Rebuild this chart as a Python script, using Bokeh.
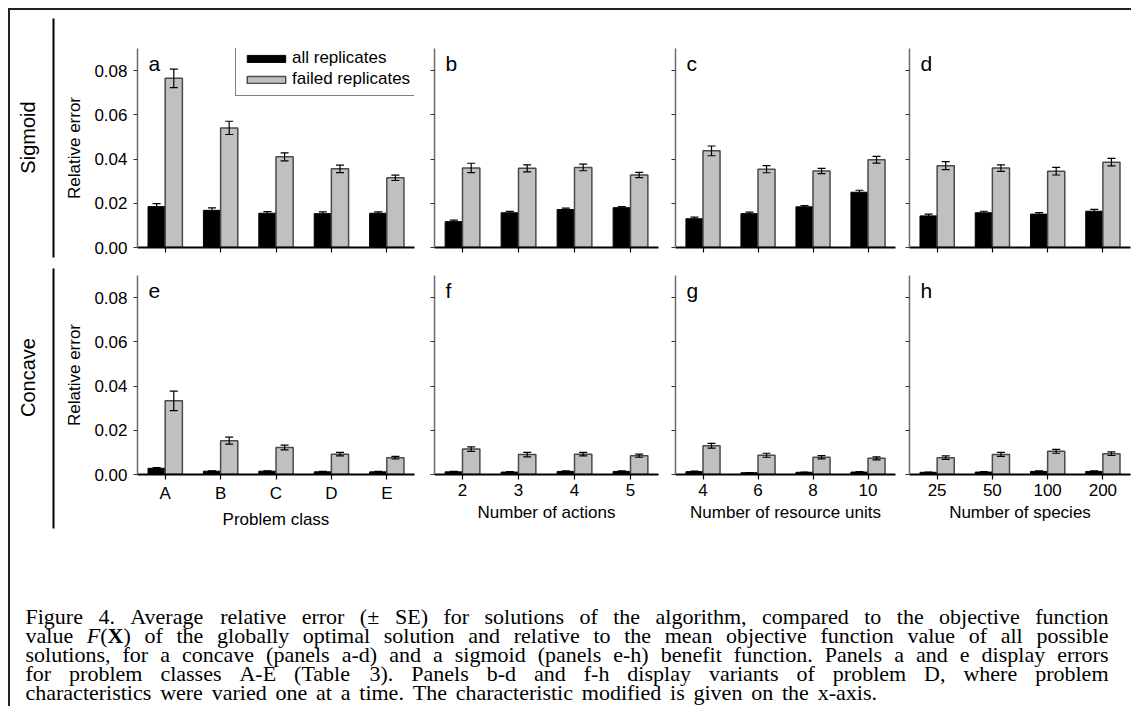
import math
from bokeh.plotting import figure
from bokeh.models import (ColumnDataSource, FactorRange, Range1d, FixedTicker,
                          NumeralTickFormatter, Legend, LegendItem, Label, LinearAxis)
from bokeh.transform import dodge
from bokeh.layouts import row, column
from bokeh.embed import file_html
from bokeh.resources import INLINE
from bokeh.core.properties import value

# ---------------- data ----------------
classes = ["A", "B", "C", "D", "E"]
actions = ["2", "3", "4", "5"]
resources = ["4", "6", "8", "10"]
species = ["25", "50", "100", "200"]

series_names = ["all replicates", "failed replicates"]
row_names = ["Sigmoid", "Concave"]
panel_letters = ["a", "b", "c", "d", "e", "f", "g", "h"]
x_titles = ["Problem class", "Number of actions", "Number of resource units", "Number of species"]
y_title = "Relative error"
y_ticks = [0.0, 0.02, 0.04, 0.06, 0.08]

# Sigmoid (top row)
sig_class_all = [0.0185, 0.0168, 0.0155, 0.0153, 0.0155]
sig_class_all_se = [0.0013, 0.0011, 0.0007, 0.0008, 0.0006]
sig_class_fail = [0.0765, 0.0541, 0.0410, 0.0356, 0.0315]
sig_class_fail_se = [0.0042, 0.0030, 0.0018, 0.0017, 0.0012]

sig_act_all = [0.0117, 0.0157, 0.0172, 0.0180]
sig_act_all_se = [0.0007, 0.0006, 0.0006, 0.0005]
sig_act_fail = [0.0360, 0.0358, 0.0362, 0.0328]
sig_act_fail_se = [0.0021, 0.0016, 0.0015, 0.0012]

sig_res_all = [0.0130, 0.0153, 0.0184, 0.0250]
sig_res_all_se = [0.0007, 0.0007, 0.0006, 0.0009]
sig_res_fail = [0.0437, 0.0354, 0.0346, 0.0397]
sig_res_fail_se = [0.0022, 0.0016, 0.0012, 0.0015]

sig_sp_all = [0.0143, 0.0157, 0.0151, 0.0164]
sig_sp_all_se = [0.0008, 0.0007, 0.0007, 0.0008]
sig_sp_fail = [0.0370, 0.0359, 0.0345, 0.0386]
sig_sp_fail_se = [0.0018, 0.0015, 0.0017, 0.0017]

# Concave (bottom row)
con_class_all = [0.0028, 0.0015, 0.0015, 0.0012, 0.0012]
con_class_all_se = [0.0003, 0.0002, 0.0002, 0.0002, 0.0002]
con_class_fail = [0.0333, 0.0153, 0.0122, 0.0092, 0.0076]
con_class_fail_se = [0.0044, 0.0016, 0.0011, 0.0008, 0.0006]

con_act_all = [0.0012, 0.0011, 0.0014, 0.0014]
con_act_all_se = [0.0002, 0.0002, 0.0002, 0.0002]
con_act_fail = [0.0115, 0.0090, 0.0092, 0.0085]
con_act_fail_se = [0.0010, 0.0010, 0.0008, 0.0007]

con_res_all = [0.0013, 0.0008, 0.0010, 0.0011]
con_res_all_se = [0.0002, 0.0001, 0.0001, 0.0002]
con_res_fail = [0.0130, 0.0087, 0.0078, 0.0073]
con_res_fail_se = [0.0011, 0.0009, 0.0007, 0.0007]

con_sp_all = [0.0010, 0.0011, 0.0014, 0.0014]
con_sp_all_se = [0.0001, 0.0002, 0.0002, 0.0002]
con_sp_fail = [0.0076, 0.0091, 0.0105, 0.0094]
con_sp_fail_se = [0.0008, 0.0009, 0.0009, 0.0008]

caption_lines = [
    "Figure 4. Average relative error (\u00b1 SE) for solutions of the algorithm, compared to the objective function",
    "value F(X) of the globally optimal solution and relative to the mean objective function value of all possible",
    "solutions, for a concave (panels a-d) and a sigmoid (panels e-h) benefit function. Panels a and e display errors",
    "for problem classes A-E (Table 3). Panels b-d and f-h display variants of problem D, where problem",
    "characteristics were varied one at a time. The characteristic modified is given on the x-axis.",
]

# ---------------- style ----------------
SANS = "Liberation Sans"
SERIF = "Liberation Serif"
FS = "17px"
FRAME_H = 199
BAR_W = 0.31
GREY = "#c0c0c0"
GREY_LINE = "#4a4a4a"


def make_panel(cats, all_m, all_se, fail_m, fail_se, letter, top, frame_w, bl, br,
               first, xlabel, legend=False):
    bt, bb = (38, 14) if top else (14, 60)
    p = figure(x_range=FactorRange(*cats), y_range=Range1d(0, 0.09),
               frame_width=frame_w, frame_height=FRAME_H,
               min_border_left=bl, min_border_right=br,
               min_border_top=bt, min_border_bottom=bb,
               x_axis_type=None if top else "auto",
               y_axis_type="auto" if first else None,
               output_backend="svg", toolbar_location=None, tools="")
    p.background_fill_color = "white"
    p.border_fill_color = "white"
    p.outline_line_color = None
    p.xgrid.visible = False
    p.ygrid.visible = False

    src = ColumnDataSource(dict(
        cat=cats, all=all_m, fail=fail_m,
        all_lo=[m - s for m, s in zip(all_m, all_se)],
        all_hi=[m + s for m, s in zip(all_m, all_se)],
        fail_lo=[m - s for m, s in zip(fail_m, fail_se)],
        fail_hi=[m + s for m, s in zip(fail_m, fail_se)],
    ))
    xa = dodge("cat", -BAR_W / 2, range=p.x_range)
    xf = dodge("cat", BAR_W / 2, range=p.x_range)
    r1 = p.vbar(x=xa, top="all", width=BAR_W, source=src,
                fill_color="black", line_color="black", line_width=1)
    r2 = p.vbar(x=xf, top="fail", width=BAR_W, source=src,
                fill_color=GREY, line_color=GREY_LINE, line_width=1.5)
    for x, lo, hi in ((xa, "all_lo", "all_hi"), (xf, "fail_lo", "fail_hi")):
        p.segment(x0=x, y0=lo, x1=x, y1=hi, source=src,
                  line_color="black", line_width=1.2)
        p.scatter(x=x, y=hi, marker="dash", size=8, source=src,
                  line_color="black", line_width=1.2)
        p.scatter(x=x, y=lo, marker="dash", size=8, source=src,
                  line_color="black", line_width=1.2)

    # ---- x axis ----
    if top:
        # tick marks only (no labels): minor ticks at the category centres
        xax = LinearAxis(ticker=FixedTicker(ticks=[], minor_ticks=[i + 0.5 for i in range(len(cats))]))
        xax.minor_tick_line_color = "black"
        xax.minor_tick_line_width = 1.2
        xax.minor_tick_out = 5
        xax.minor_tick_in = 0
        p.add_layout(xax, "below")
    else:
        xax = p.xaxis[0]
        xax.major_tick_line_color = "black"
        xax.major_tick_line_width = 1.2
        xax.major_tick_out = 5
        xax.major_tick_in = 0
        xax.major_label_text_font = SANS
        xax.major_label_text_font_size = FS
        xax.major_label_text_color = "black"
        xax.major_label_standoff = 4
        xax.axis_label = xlabel
        xax.axis_label_text_font = SANS
        xax.axis_label_text_font_size = FS
        xax.axis_label_text_font_style = "normal"
        xax.axis_label_text_color = "black"
        xax.axis_label_standoff = 4
    xax.axis_line_color = "black"
    xax.axis_line_width = 2

    # ---- y axis ----
    if first:
        yax = p.yaxis[0]
        yax.ticker = FixedTicker(ticks=y_ticks)
        yax.formatter = NumeralTickFormatter(format="0.00")
        yax.major_tick_line_color = "#333333"
        yax.major_tick_line_width = 1.2
        yax.major_tick_out = 4
        yax.major_tick_in = 0
        yax.minor_tick_line_color = None
        yax.major_label_text_font = SANS
        yax.major_label_text_font_size = FS
        yax.major_label_text_color = "black"
        yax.major_label_standoff = 6
        yax.axis_label = y_title
        yax.axis_label_text_font = SANS
        yax.axis_label_text_font_size = FS
        yax.axis_label_text_font_style = "normal"
        yax.axis_label_text_color = "black"
        yax.axis_label_standoff = 7
    else:
        yax = LinearAxis(ticker=FixedTicker(ticks=[], minor_ticks=y_ticks))
        yax.minor_tick_line_color = "#333333"
        yax.minor_tick_line_width = 1.2
        yax.minor_tick_out = 4
        yax.minor_tick_in = 0
        p.add_layout(yax, "left")
    yax.axis_line_color = "#6b6b6b"
    yax.axis_line_width = 1.5

    p.add_layout(Label(x=11, y=FRAME_H - 15, x_units="screen", y_units="screen",
                       text=letter, text_font=SANS, text_font_size="21px",
                       text_color="black", text_baseline="alphabetic"))

    if legend:
        lg = Legend(items=[LegendItem(label=series_names[0], renderers=[r1]),
                           LegendItem(label=series_names[1], renderers=[r2])],
                    location=(98, 151))
        lg.glyph_width = 48
        lg.glyph_height = 9
        lg.label_height = 17
        lg.label_standoff = 2
        lg.padding = 6
        lg.spacing = 1
        lg.margin = 0
        lg.label_text_font = SANS
        lg.label_text_font_size = FS
        lg.label_text_color = "black"
        lg.label_text_baseline = "middle"
        lg.border_line_color = "black"
        lg.border_line_width = 1.3
        lg.background_fill_color = "white"
        lg.background_fill_alpha = 1
        p.add_layout(lg)
    return p


# column geometry: (frame width, min border left, min border right)
geom = [(277, 75, 10), (224, 10, 8), (220, 9, 7), (221, 7, 1)]
cats_list = [classes, actions, resources, species]
sig = [(sig_class_all, sig_class_all_se, sig_class_fail, sig_class_fail_se),
       (sig_act_all, sig_act_all_se, sig_act_fail, sig_act_fail_se),
       (sig_res_all, sig_res_all_se, sig_res_fail, sig_res_fail_se),
       (sig_sp_all, sig_sp_all_se, sig_sp_fail, sig_sp_fail_se)]
con = [(con_class_all, con_class_all_se, con_class_fail, con_class_fail_se),
       (con_act_all, con_act_all_se, con_act_fail, con_act_fail_se),
       (con_res_all, con_res_all_se, con_res_fail, con_res_fail_se),
       (con_sp_all, con_sp_all_se, con_sp_fail, con_sp_fail_se)]

top_figs, bot_figs = [], []
for i in range(4):
    fw, bl, br = geom[i]
    top_figs.append(make_panel(cats_list[i], *sig[i], panel_letters[i], True, fw, bl, br,
                               i == 0, x_titles[i], legend=(i == 0)))
    bot_figs.append(make_panel(cats_list[i], *con[i], panel_letters[i + 4], False, fw, bl, br,
                               i == 0, x_titles[i]))

# ---------------- left strip with row titles ----------------
STRIP_W, STRIP_H = 52, 524
strip = figure(width=STRIP_W, height=STRIP_H, x_range=Range1d(0, STRIP_W),
               y_range=Range1d(STRIP_H, 0), x_axis_type=None, y_axis_type=None,
               min_border=0, output_backend="svg", toolbar_location=None, tools="")
strip.outline_line_color = None
strip.grid.visible = False
strip.text(x=[17, 17], y=[127, 367], text=row_names, angle=math.pi / 2,
           text_align="center", text_baseline="middle",
           text_font=value(SANS), text_font_size="20px", text_color="black")
strip.segment(x0=[43, 43], y0=[8, 258], x1=[43, 43], y1=[247, 518],
              line_color="black", line_width=2)

# ---------------- caption ----------------
TNR = {' ': 250, '.': 250, ',': 250, '(': 333, ')': 333, '-': 333, '\u00b1': 564, ':': 278,
       'a': 444, 'b': 500, 'c': 444, 'd': 500, 'e': 444, 'f': 333, 'g': 500, 'h': 500,
       'i': 278, 'j': 278, 'k': 500, 'l': 278, 'm': 778, 'n': 500, 'o': 500, 'p': 500,
       'q': 500, 'r': 333, 's': 389, 't': 278, 'u': 500, 'v': 500, 'w': 722, 'x': 500,
       'y': 500, 'z': 444, 'A': 722, 'B': 667, 'C': 667, 'D': 722, 'E': 611, 'F': 556,
       'G': 722, 'H': 722, 'I': 333, 'J': 389, 'K': 722, 'L': 611, 'M': 889, 'N': 722,
       'O': 722, 'P': 556, 'Q': 722, 'R': 667, 'S': 556, 'T': 611, 'U': 722, 'V': 722,
       'W': 944, 'X': 722, 'Y': 722, 'Z': 611}
STYLED = {"F(X)": [("F", "italic", 611), ("(", "normal", 333), ("X", "bold", 722), (")", "normal", 333)]}

CAP_W, CAP_H = 1121, 172
CAP_FS = 22
cap = figure(width=CAP_W, height=CAP_H, x_range=Range1d(0, CAP_W), y_range=Range1d(CAP_H, 0),
             x_axis_type=None, y_axis_type=None, min_border=0,
             output_backend="svg", toolbar_location=None, tools="")
cap.outline_line_color = None
cap.grid.visible = False

left, right = 15, 1098
baselines = [82, 101, 120, 139, 158]
buckets = {"normal": ([], [], []), "italic": ([], [], []), "bold": ([], [], [])}
for li, line in enumerate(caption_lines):
    words = line.split(" ")
    segs = []
    for w in words:
        if w in STYLED:
            segs.append(STYLED[w])
        else:
            segs.append([(w, "normal", sum(TNR.get(ch, 500) for ch in w))])
    widths = [sum(s[2] for s in sg) / 1000 * CAP_FS for sg in segs]
    if li < len(caption_lines) - 1:
        gap = (right - left - sum(widths)) / (len(words) - 1)
    else:
        gap = 0.25 * CAP_FS * 1.6
    x = left
    for sg, wd in zip(segs, widths):
        xx = x
        for txt, style, em in sg:
            b = buckets[style]
            b[0].append(xx)
            b[1].append(baselines[li])
            b[2].append(txt)
            xx += em / 1000 * CAP_FS
        x += wd + gap

for style, (xs, ys, ts) in buckets.items():
    if ts:
        cap.text(x=xs, y=ys, text=ts, text_font=value(SERIF), text_font_size=f"{CAP_FS}px",
                 text_font_style=style, text_align="left", text_baseline="alphabetic",
                 text_color="black")

# ---------------- layout ----------------
panels = column(row(*top_figs), row(*bot_figs))
root = column(row(strip, panels), cap,
              styles={"margin-left": "8px", "margin-top": "8px",
                      "border-left": "2px solid #222222", "border-top": "2px solid #222222"})

open("out.html", "w").write(file_html(root, INLINE))
